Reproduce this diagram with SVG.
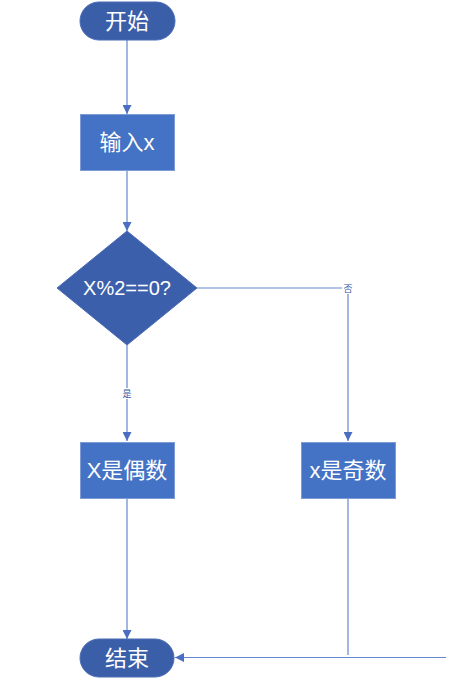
<svg xmlns="http://www.w3.org/2000/svg" width="468" height="684" viewBox="0 0 468 684">
<defs>
<style>
.term{fill:#3b5ea9;stroke:#4a6cb5;stroke-width:1}
.proc{fill:#4472c4;stroke:#7f9bd6;stroke-width:1}
.dec{fill:#3c5fab;stroke:#4a6cb5;stroke-width:1}
.t{font-family:"Liberation Sans","Noto Sans CJK SC",sans-serif;fill:#ffffff;font-size:22px;text-anchor:middle;dominant-baseline:central}
.c{fill:none;stroke:#6587cf;stroke-width:1.2}
.lbl{font-family:"Noto Sans CJK SC",sans-serif;font-size:9px;fill:#3a56a0;text-anchor:middle;dominant-baseline:central}
</style>
<marker id="arr" viewBox="0 0 10 10" refX="10" refY="5" markerWidth="9" markerHeight="9" markerUnits="userSpaceOnUse" orient="auto">
<path d="M0,0 L10,5 L0,10 z" fill="#4a6fc2"/>
</marker>
</defs>
<rect width="468" height="684" fill="#ffffff"/>
<g id="connectors">
<line class="c" x1="127" y1="40" x2="127" y2="114" marker-end="url(#arr)"/>
<line class="c" x1="127" y1="170" x2="127" y2="231" marker-end="url(#arr)"/>
<polyline class="c" points="197,288 348,288 348,441" marker-end="url(#arr)"/>
<line class="c" x1="127" y1="345" x2="127" y2="441" marker-end="url(#arr)"/>
<line class="c" x1="127" y1="498" x2="127" y2="639" marker-end="url(#arr)"/>
<line class="c" x1="348" y1="498" x2="348" y2="655"/>
<line class="c" x1="446" y1="657.5" x2="175" y2="657.5" marker-end="url(#arr)"/>
<rect x="342" y="283" width="12" height="11" fill="#ffffff"/>
<text class="lbl" x="348" y="288.5">否</text>
<rect x="121" y="388" width="12" height="11" fill="#ffffff"/>
<text class="lbl" x="127" y="393.5">是</text>
</g>
<g id="start">
<rect class="term" x="80" y="2" width="95" height="38" rx="19"/>
<text class="t" x="127" y="21">开始</text>
</g>
<g id="input">
<rect class="proc" x="80.5" y="114.5" width="94" height="56"/>
<text class="t" x="127" y="142">输入x</text>
</g>
<g id="decision">
<polygon class="dec" points="127,231 197,288 127,345 57,288"/>
<text class="t" x="127" y="288" style="font-size:20px">X%2==0?</text>
</g>
<g id="even">
<rect class="proc" x="80.5" y="442.5" width="94" height="56"/>
<text class="t" x="127" y="470">X是偶数</text>
</g>
<g id="odd">
<rect class="proc" x="301.5" y="442.5" width="94" height="56"/>
<text class="t" x="348" y="470">x是奇数</text>
</g>
<g id="end">
<rect class="term" x="80" y="639" width="94" height="38" rx="19"/>
<text class="t" x="127" y="658">结束</text>
</g>
</svg>
